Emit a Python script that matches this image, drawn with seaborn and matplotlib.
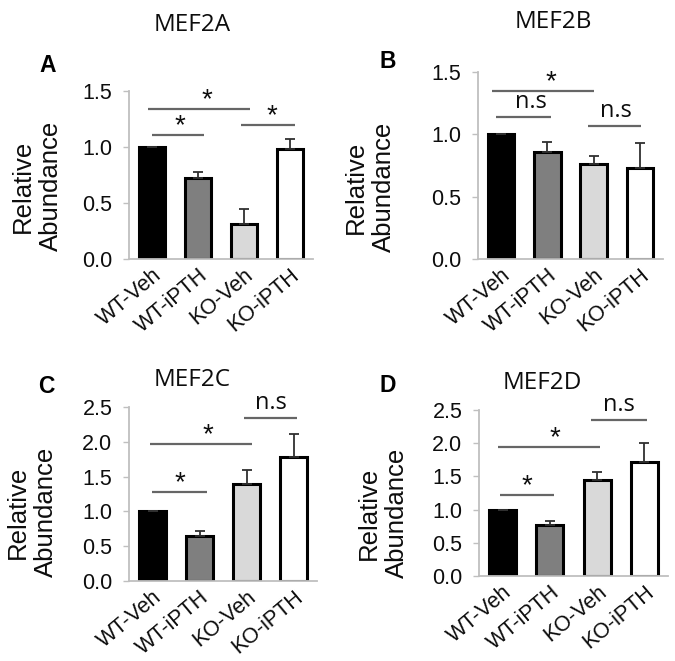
import matplotlib
matplotlib.use("Agg")
import matplotlib.pyplot as plt
import seaborn as sns
import numpy as np
import pandas as pd

sns.set_style("white")
plt.rcParams['font.family'] = ['Liberation Sans', 'DejaVu Sans']

# ---------------- data ----------------
groups = ["WT-Veh", "WT-iPTH", "KO-Veh", "KO-iPTH"]
bar_colors = ["#000000", "#7f7f7f", "#d9d9d9", "#ffffff"]

mef2a_vals = [1.00, 0.72, 0.31, 0.98]
mef2a_err = [0.00, 0.06, 0.14, 0.09]
mef2b_vals = [1.00, 0.86, 0.76, 0.73]
mef2b_err = [0.00, 0.08, 0.07, 0.20]
mef2c_vals = [1.00, 0.65, 1.40, 1.78]
mef2c_err = [0.00, 0.07, 0.19, 0.33]
mef2d_vals = [1.00, 0.77, 1.44, 1.71]
mef2d_err = [0.00, 0.06, 0.12, 0.29]

titles = ["MEF2A", "MEF2B", "MEF2C", "MEF2D"]
panel_letters = ["A", "B", "C", "D"]
y_max = [1.5, 1.5, 2.5, 2.5]
y_ticks = [[0.0, 0.5, 1.0, 1.5], [0.0, 0.5, 1.0, 1.5],
           [0.0, 0.5, 1.0, 1.5, 2.0, 2.5], [0.0, 0.5, 1.0, 1.5, 2.0, 2.5]]

# significance annotations: (label, x_start, x_end, y, label_x)
sig_a = [("*", -0.09, 2.13, 1.34, 1.20), ("*", 0.00, 1.13, 1.11, 0.61), ("*", 1.93, 3.10, 1.20, 2.60)]
sig_b = [("*", -0.19, 2.01, 1.35, 1.08), ("n.s", -0.12, 1.08, 1.14, 0.64), ("n.s", 1.87, 3.02, 1.07, 2.48)]
sig_c = [("n.s", 1.95, 3.07, 2.34, 2.52), ("*", -0.05, 2.11, 1.97, 1.18), ("*", -0.02, 1.15, 1.28, 0.59)]
sig_d = [("n.s", 1.88, 3.05, 2.35, 2.46), ("*", -0.09, 2.06, 1.94, 1.11), ("*", -0.06, 1.09, 1.22, 0.51)]

all_vals = [mef2a_vals, mef2b_vals, mef2c_vals, mef2d_vals]
all_err = [mef2a_err, mef2b_err, mef2c_err, mef2d_err]
all_sig = [sig_a, sig_b, sig_c, sig_d]

# ---------------- layout ----------------
W, H = 675, 661
fig = plt.figure(figsize=(W / 100, H / 100), dpi=100)

# axes boxes in pixels: left, right, top, bottom
boxes = [(129, 313, 91, 259), (478, 663, 72, 259), (129, 317, 407, 581), (479, 668, 410, 576)]
title_pos = [(192, 25), (553, 22), (192, 380), (542, 383)]
letter_pos = [(48, 66), (388, 62), (46, 387), (388, 385)]
ylabel_pos = [(37, 186), (370, 187), (32, 512), (383, 513)]

spine_col = "#bfbfbf"
text_col = "#0d0d0d"
line_col = "#666666"

def fx(px):
    return px / W

def fy(py):
    return 1 - py / H

for i in range(4):
    l, r, t, b = boxes[i]
    ax = fig.add_axes([fx(l), fy(b), (r - l) / W, (b - t) / H])
    df = pd.DataFrame({"group": groups, "value": all_vals[i]})
    sns.barplot(data=df, x="group", y="value", hue="group", palette=bar_colors,
                order=groups, hue_order=groups, edgecolor="black", linewidth=2.2,
                width=0.57, errorbar=None, legend=False, ax=ax)
    xs = np.arange(len(groups))
    vals = np.array(all_vals[i])
    errs = np.array(all_err[i])
    ax.errorbar(xs, vals, yerr=[np.zeros_like(errs), errs], fmt="none",
                ecolor="#303030", elinewidth=1.3, capsize=3.5, capthick=1.3, zorder=1)
    ax.set_xlim(-0.5, 3.5)
    ax.set_ylim(0, y_max[i])
    ax.set_yticks(y_ticks[i])
    ax.set_yticklabels([f"{v:.1f}" for v in y_ticks[i]], fontsize=15.5, color=text_col)
    ax.set_xticks(xs)
    ax.set_xticklabels(groups, rotation=40, ha="right", rotation_mode="anchor",
                       fontsize=15.5, color=text_col)
    ax.set_xticks(np.arange(-0.5, 4.0, 1.0), minor=True)
    ax.tick_params(axis="x", which="major", length=0, pad=4)
    ax.tick_params(axis="x", which="minor", length=4, width=1, color=spine_col, direction="out")
    ax.tick_params(axis="y", which="major", length=4, width=1, color=spine_col,
                   direction="out", left=True, pad=8)
    for s in ["top", "right"]:
        ax.spines[s].set_visible(False)
    for s in ["left", "bottom"]:
        ax.spines[s].set_color(spine_col)
        ax.spines[s].set_linewidth(1.3)
    ax.set_xlabel("")
    ax.set_ylabel("")
    for lab, x0, x1, yv, lx in all_sig[i]:
        ax.plot([x0, x1], [yv, yv], color=line_col, lw=1.6, clip_on=False,
                solid_capstyle="butt")
        if lab == "*":
            ax.annotate(lab, xy=(lx, yv), xytext=(0, -3), textcoords="offset points",
                        ha="center", va="bottom", fontsize=20, color=text_col,
                        annotation_clip=False)
        else:
            ax.annotate(lab, xy=(lx, yv), xytext=(0, 2), textcoords="offset points",
                        ha="center", va="bottom", fontsize=17, color=text_col,
                        family=["Open Sans", "DejaVu Sans"], annotation_clip=False)

    tx, ty = title_pos[i]
    fig.text(fx(tx), fy(ty), titles[i], ha="center", va="center", fontsize=17.5,
             color=text_col, family=["Open Sans", "DejaVu Sans"])
    lx_, ly_ = letter_pos[i]
    fig.text(fx(lx_), fy(ly_), panel_letters[i], ha="center", va="center", fontsize=16.5,
             fontweight="bold", color="black")
    yx, yy = ylabel_pos[i]
    fig.text(fx(yx), fy(yy), "Relative\nAbundance", ha="center", va="center",
             rotation=90, fontsize=18.5, color=text_col, linespacing=1.2)

fig.savefig("out.png", dpi=100)
